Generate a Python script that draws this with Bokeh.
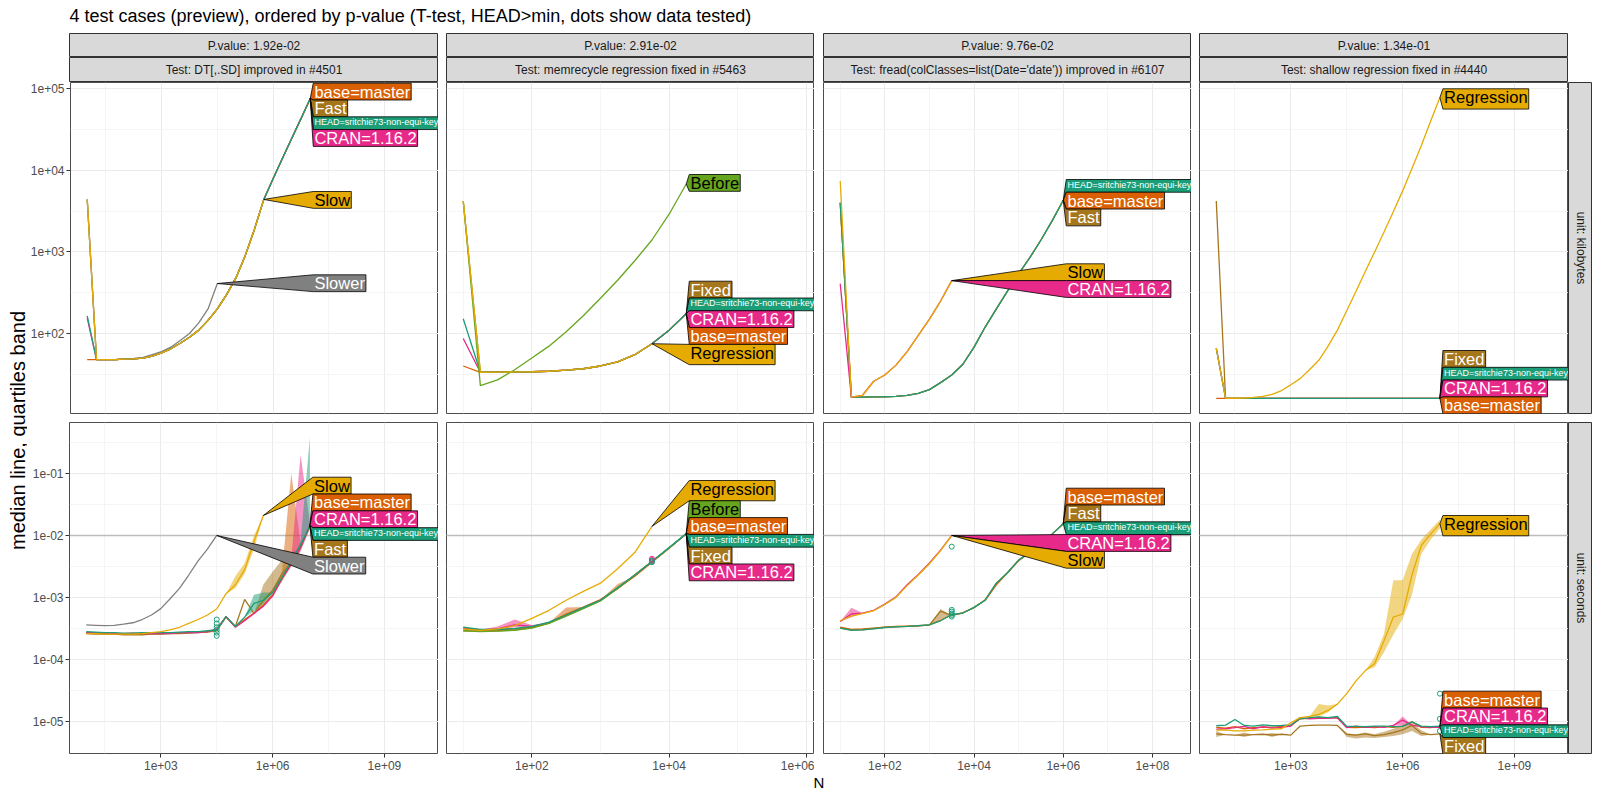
import math
from bokeh.plotting import figure
from bokeh.layouts import row, column
from bokeh.models import Range1d, FixedTicker, CustomJSTickFormatter
from bokeh.embed import file_html
from bokeh.resources import INLINE
from bokeh.core.properties import value

FONT = "Liberation Sans"

# ---------------- texts ----------------
TITLE = "4 test cases (preview), ordered by p-value (T-test, HEAD>min, dots show data tested)"
P_VALUES = ["P.value: 1.92e-02", "P.value: 2.91e-02", "P.value: 9.76e-02", "P.value: 1.34e-01"]
TESTS = ["Test: DT[,.SD] improved in #4501",
         "Test: memrecycle regression fixed in #5463",
         "Test: fread(colClasses=list(Date='date')) improved in #6107",
         "Test: shallow regression fixed in #4440"]
UNITS = ["unit: kilobytes", "unit: seconds"]
Y_TITLE = "median line, quartiles band"
X_TITLE = "N"

BASE = "base=master"
FAST = "Fast"
HEAD = "HEAD=sritchie73-non-equi-key"
CRAN = "CRAN=1.16.2"
SLOW = "Slow"
SLOWER = "Slower"
BEFORE = "Before"
REGR = "Regression"
FIXED = "Fixed"

COLORS = {BASE: "#D95F02", FAST: "#A6761D", HEAD: "#1B9E77", CRAN: "#E7298A",
          SLOW: "#E6AB02", SLOWER: "#808080", BEFORE: "#66A61E", REGR: "#E6AB02",
          FIXED: "#A6761D"}
DARK_TEXT = [SLOW, REGR, BEFORE]

# ---------------- data ----------------
N_GRID = [10, 17.78, 31.62, 56.23, 100, 177.8, 316.2, 562.3, 1000, 1778, 3162, 5623,
          10000, 17783, 31623, 56234, 100000, 177828, 316228, 562341, 1000000,
          1778279, 3162278, 5623413, 10000000]

X_TICKS = [[1e3, 1e6, 1e9], [1e2, 1e4, 1e6], [1e2, 1e4, 1e6, 1e8], [1e3, 1e6, 1e9]]
X_MINOR = [[31.62, 31623, 31622777], [10, 1000, 100000], [10, 1000, 100000, 10000000],
           [31.62, 31623, 31622777]]
Y_TICKS = [[1e2, 1e3, 1e4, 1e5], [1e-5, 1e-4, 1e-3, 1e-2, 1e-1]]
Y_MINOR = [[31.62, 316.2, 3162, 31623], [3.162e-5, 3.162e-4, 3.162e-3, 3.162e-2, 0.3162]]
HLINE_SEC = 0.01

# panel 1: DT[,.SD]
DT_KB = {
    BASE: [48, 48, 48, 48, 48.5, 49, 50, 53, 58, 65, 76, 90, 110, 145, 200, 300, 480, 900, 1900, 4400, 7900, 14000, 24500, 43000, 76000],
    CRAN: [155, 48, 48, 48, 48.5, 49, 50, 53, 58, 65, 76, 90, 110, 145, 200, 300, 480, 900, 1900, 4400, 7900, 14000, 24500, 43000, 76000],
    FAST: [4400, 48, 48, 48, 48.5, 49, 50, 53, 58, 65, 76, 90, 110, 145, 200, 300, 480, 900, 1900, 4400, 7900, 14000, 24500, 43000, 76000],
    HEAD: [165, 48, 48, 48, 48.5, 49, 50, 53, 58, 65, 76, 90, 110, 145, 200, 300, 480, 900, 1900, 4400, 7900, 14000, 24500, 43000, 76000],
    SLOWER: [4400, 48, 48, 48, 48.5, 49.5, 51, 55, 60, 68, 82, 100, 135, 200, 410],
    SLOW: [4400, 48, 48, 48, 48.5, 49, 50, 53, 58, 65, 76, 90, 110, 145, 200, 300, 480, 900, 1900, 4400],
}
DT_SEC = {
    SLOWER: [3.6e-4, 3.55e-4, 3.5e-4, 3.55e-4, 3.7e-4, 3.9e-4, 4.4e-4, 5.2e-4, 6.6e-4, 9.5e-4, 1.4e-3, 2.3e-3, 3.9e-3, 6.0e-3, 1.0e-2],
    BASE: [2.7e-4, 2.65e-4, 2.6e-4, 2.6e-4, 2.6e-4, 2.6e-4, 2.6e-4, 2.6e-4, 2.6e-4, 2.65e-4, 2.7e-4, 2.7e-4, 2.75e-4, 2.8e-4, 3.0e-4, 4.9e-4, 3.4e-4, 4.4e-4, 5.6e-4, 7.5e-4, 1.1e-3, 2.0e-3, 3.5e-3, 6.4e-3, 1.45e-2],
    FAST: [2.6e-4, 2.55e-4, 2.55e-4, 2.55e-4, 2.5e-4, 2.5e-4, 2.5e-4, 2.55e-4, 2.55e-4, 2.6e-4, 2.6e-4, 2.65e-4, 2.7e-4, 2.75e-4, 2.9e-4, 4.8e-4, 3.4e-4, 9.3e-4, 5.5e-4, 9.0e-4, 1.3e-3, 2.4e-3, 3.6e-3, 6.8e-3, 1.45e-2],
    CRAN: [2.7e-4, 2.7e-4, 2.65e-4, 2.6e-4, 2.6e-4, 2.65e-4, 2.6e-4, 2.6e-4, 2.6e-4, 2.6e-4, 2.7e-4, 2.7e-4, 2.7e-4, 2.8e-4, 3.1e-4, 4.9e-4, 3.3e-4, 4.2e-4, 5.5e-4, 7.2e-4, 1.05e-3, 2.0e-3, 3.4e-3, 6.6e-3, 1.45e-2],
    HEAD: [2.8e-4, 2.75e-4, 2.7e-4, 2.7e-4, 2.65e-4, 2.65e-4, 2.7e-4, 2.7e-4, 2.7e-4, 2.7e-4, 2.75e-4, 2.8e-4, 2.8e-4, 2.9e-4, 3.0e-4, 4.9e-4, 3.4e-4, 4.8e-4, 8.0e-4, 9.0e-4, 1.2e-3, 2.1e-3, 3.8e-3, 7.0e-3, 1.45e-2],
    SLOW: [2.6e-4, 2.6e-4, 2.55e-4, 2.55e-4, 2.55e-4, 2.55e-4, 2.6e-4, 2.7e-4, 2.8e-4, 3.0e-4, 3.3e-4, 3.8e-4, 4.4e-4, 5.2e-4, 6.5e-4, 1.15e-3, 1.6e-3, 2.8e-3, 8.0e-3, 2.1e-2],
}
DT_SEC_BANDS = {
    BASE: {21: (1.8e-3, 2.6e-3), 22: (3.2e-3, 1.0e-1), 23: (5.8e-3, 7.5e-3)},
    CRAN: {22: (3.2e-3, 4.2e-3), 23: (5.5e-3, 2.0e-1), 24: (1.3e-2, 1.6e-2)},
    HEAD: {18: (6.0e-4, 1.1e-3), 19: (8.0e-4, 1.2e-3), 23: (6.0e-3, 8.0e-3), 24: (1.3e-2, 3.8e-1)},
    FAST: {19: (7.0e-4, 1.6e-3), 20: (1.1e-3, 2.6e-3), 21: (2.0e-3, 4.0e-3), 22: (3.3e-3, 5.0e-3)},
    SLOW: {16: (1.4e-3, 2.2e-3), 17: (2.4e-3, 3.6e-3), 18: (6.0e-3, 1.0e-2)},
}
DT_SEC_DOTS = {HEAD: (31623, [2.4e-4, 2.7e-4, 3.0e-4, 3.3e-4, 3.8e-4, 4.4e-4])}

# panel 2: memrecycle
MEM_KB = {
    BASE: [40, 33.5, 33.7, 33.8, 34, 34.5, 35.5, 37, 40, 45, 55, 75, 110, 175],
    CRAN: [87, 33.5, 33.7, 33.8, 34, 34.5, 35.5, 37, 40, 45, 55, 75, 110, 175],
    FIXED: [4200, 33.5, 33.7, 33.8, 34, 34.5, 35.5, 37, 40, 45, 55, 75, 110, 175],
    HEAD: [152, 33.5, 33.7, 33.8, 34, 34.5, 35.5, 37, 40, 45, 55, 75, 110, 175],
    BEFORE: [4200, 23, 27, 36, 50, 70, 105, 165, 270, 450, 780, 1400, 2900, 6800],
    REGR: [4200, 33.5, 33.7, 33.8, 34, 34.5, 35.5, 37, 40, 45, 55, 75],
}
MEM_SEC = {
    BASE: [3.1e-4, 2.95e-4, 3.0e-4, 3.1e-4, 3.3e-4, 3.9e-4, 5.4e-4, 7.0e-4, 9.2e-4, 1.4e-3, 2.2e-3, 3.7e-3, 6.2e-3, 1.07e-2],
    CRAN: [3.2e-4, 3.0e-4, 3.1e-4, 3.6e-4, 3.4e-4, 3.9e-4, 5.1e-4, 6.8e-4, 9.0e-4, 1.4e-3, 2.3e-3, 3.8e-3, 6.3e-3, 1.07e-2],
    FIXED: [2.9e-4, 2.85e-4, 2.9e-4, 3.0e-4, 3.25e-4, 3.85e-4, 5.1e-4, 6.7e-4, 8.9e-4, 1.4e-3, 2.3e-3, 3.8e-3, 6.3e-3, 1.06e-2],
    BEFORE: [2.9e-4, 2.8e-4, 2.85e-4, 2.95e-4, 3.2e-4, 3.8e-4, 5.0e-4, 6.6e-4, 8.8e-4, 1.4e-3, 2.3e-3, 3.8e-3, 6.3e-3, 1.08e-2],
    HEAD: [3.3e-4, 3.05e-4, 3.05e-4, 3.15e-4, 3.4e-4, 4.0e-4, 5.2e-4, 6.9e-4, 9.0e-4, 1.45e-3, 2.3e-3, 3.8e-3, 6.4e-3, 1.07e-2],
    REGR: [3.1e-4, 2.95e-4, 3.1e-4, 3.5e-4, 4.6e-4, 6.2e-4, 9.0e-4, 1.25e-3, 1.7e-3, 2.9e-3, 5.3e-3, 1.4e-2],
}
MEM_SEC_BANDS = {
    CRAN: {2: (3.0e-4, 3.4e-4), 3: (3.3e-4, 4.4e-4), 4: (3.3e-4, 3.6e-4)},
    BASE: {6: (5.3e-4, 6.9e-4), 9: (1.4e-3, 1.65e-3)},
}
MEM_SEC_DOTS = {CRAN: (5623, [3.8e-3, 4.0e-3, 4.2e-3]), HEAD: (5623, [3.7e-3, 3.9e-3])}

# panel 3: fread
FREAD_KB = {
    BASE: [4000, 16.6, 16.6, 16.7, 16.8, 17, 17.5, 18.5, 20.5, 25, 31, 42, 68, 120, 200, 330, 540, 850, 1400, 2400, 4300],
    FAST: [4000, 16.6, 16.6, 16.7, 16.8, 17, 17.5, 18.5, 20.5, 25, 31, 42, 68, 120, 200, 330, 540, 850, 1400, 2400, 4300],
    HEAD: [4000, 16.6, 16.6, 16.7, 16.8, 17, 17.5, 18.5, 20.5, 25, 31, 42, 68, 120, 200, 330, 540, 850, 1400, 2400, 4300],
    CRAN: [407, 16.6, 17.5, 26, 31, 41, 60, 95, 150, 250, 445],
    SLOW: [7400, 16.6, 17.5, 26, 31, 41, 60, 95, 150, 250, 445],
}
FREAD_SEC = {
    BASE: [3.3e-4, 3.05e-4, 3.1e-4, 3.2e-4, 3.3e-4, 3.4e-4, 3.45e-4, 3.5e-4, 3.6e-4, 4.3e-4, 5.2e-4, 5.6e-4, 6.9e-4, 9.0e-4, 1.6e-3, 2.5e-3, 3.9e-3, 5.3e-3, 7.4e-3, 1.05e-2, 1.55e-2],
    FAST: [3.2e-4, 3.0e-4, 3.0e-4, 3.15e-4, 3.3e-4, 3.35e-4, 3.4e-4, 3.45e-4, 3.6e-4, 6.0e-4, 5.1e-4, 5.7e-4, 6.8e-4, 9.2e-4, 1.7e-3, 2.5e-3, 4.0e-3, 5.4e-3, 7.4e-3, 1.05e-2, 1.55e-2],
    HEAD: [3.2e-4, 2.95e-4, 3.0e-4, 3.1e-4, 3.25e-4, 3.35e-4, 3.4e-4, 3.5e-4, 3.6e-4, 4.2e-4, 5.3e-4, 5.6e-4, 6.9e-4, 9.0e-4, 1.7e-3, 2.5e-3, 4.0e-3, 5.3e-3, 7.4e-3, 1.05e-2, 1.55e-2],
    CRAN: [4.1e-4, 5.4e-4, 5.6e-4, 6.2e-4, 7.8e-4, 1.02e-3, 1.6e-3, 2.35e-3, 3.6e-3, 5.8e-3, 1.0e-2],
    SLOW: [4.2e-4, 5.0e-4, 5.5e-4, 6.1e-4, 7.7e-4, 1.0e-3, 1.55e-3, 2.3e-3, 3.5e-3, 5.7e-3, 1.0e-2],
}
FREAD_SEC_BANDS = {
    CRAN: {1: (4.8e-4, 6.8e-4)},
    FAST: {9: (4.5e-4, 6.5e-4)},
}
FREAD_SEC_DOTS = {HEAD: (3162, [4.9e-4, 5.2e-4, 5.5e-4, 5.9e-4, 6.3e-4, 6.6e-3])}

# panel 4: shallow
SHALLOW_KB = {
    BASE: [16, 16, 16, 16, 16, 16, 16, 16, 16, 16, 16, 16, 16, 16, 16, 16, 16, 16, 16, 16, 16, 16, 16, 16, 16],
    CRAN: [66, 16, 16, 16, 16, 16, 16, 16, 16, 16, 16, 16, 16, 16, 16, 16, 16, 16, 16, 16, 16, 16, 16, 16, 16],
    FIXED: [4200, 16, 16, 16, 16, 16, 16, 16, 16, 16, 16, 16, 16, 16, 16, 16, 16, 16, 16, 16, 16, 16, 16, 16, 16],
    HEAD: [66, 16, 16, 16, 16, 16, 16, 16, 16, 16, 16, 16, 16, 16, 16, 16, 16, 16, 16, 16, 16, 16, 16, 16, 16],
    REGR: [66, 16, 16.1, 16.2, 16.5, 17, 18, 20, 23.5, 28, 36, 47, 70, 110, 190, 330, 580, 1000, 1750, 3100, 5600, 10500, 20000, 40000, 78000],
}
SHALLOW_SEC = {
    FIXED: [6.3e-6, 6.1e-6, 6.0e-6, 6.0e-6, 6.1e-6, 6.2e-6, 6.0e-6, 6.2e-6, 6.0e-6, 8.4e-6, 8.6e-6, 8.7e-6, 8.7e-6, 8.6e-6, 6.2e-6, 6.0e-6, 6.3e-6, 5.9e-6, 6.1e-6, 6.6e-6, 7.3e-6, 8.6e-6, 6.4e-6, 6.1e-6, 6.3e-6],
    BASE: [8.0e-6, 7.8e-6, 8.2e-6, 7.6e-6, 7.9e-6, 8.1e-6, 8.0e-6, 8.3e-6, 8.5e-6, 1.1e-5, 1.12e-5, 1.15e-5, 1.15e-5, 1.13e-5, 8.0e-6, 7.9e-6, 8.1e-6, 7.9e-6, 8.2e-6, 8.0e-6, 8.4e-6, 9.8e-6, 8.0e-6, 7.9e-6, 8.2e-6],
    CRAN: [7.5e-6, 7.6e-6, 7.9e-6, 8.3e-6, 7.6e-6, 8.2e-6, 7.8e-6, 8.0e-6, 8.4e-6, 1.15e-5, 1.1e-5, 1.12e-5, 1.12e-5, 1.15e-5, 7.9e-6, 8.4e-6, 8.0e-6, 8.2e-6, 8.0e-6, 8.6e-6, 1.05e-5, 8.7e-6, 8.2e-6, 8.0e-6, 8.0e-6],
    HEAD: [8.5e-6, 8.7e-6, 1.07e-5, 8.6e-6, 8.4e-6, 8.8e-6, 8.5e-6, 8.6e-6, 8.8e-6, 1.1e-5, 1.15e-5, 1.18e-5, 1.15e-5, 1.2e-5, 8.3e-6, 8.3e-6, 8.2e-6, 8.4e-6, 8.4e-6, 8.2e-6, 8.3e-6, 9.8e-6, 8.4e-6, 8.2e-6, 8.4e-6],
    REGR: [7.2e-6, 7.3e-6, 7.0e-6, 7.0e-6, 7.2e-6, 7.3e-6, 7.5e-6, 7.6e-6, 9.5e-6, 1.15e-5, 1.2e-5, 1.3e-5, 1.5e-5, 1.9e-5, 2.8e-5, 4.5e-5, 6.6e-5, 8.6e-5, 2.0e-4, 4.8e-4, 5.4e-4, 2.3e-3, 6.9e-3, 1.05e-2, 1.55e-2],
}
SHALLOW_SEC_BANDS = {
    REGR: {11: (1.2e-5, 1.9e-5), 12: (1.4e-5, 1.8e-5), 17: (7.5e-5, 1.1e-4), 18: (1.3e-4, 2.6e-4),
           19: (2.5e-4, 1.9e-3), 20: (4.5e-4, 1.9e-3), 21: (1.1e-3, 5.0e-3), 22: (5.0e-3, 8.5e-3),
           23: (8.5e-3, 1.25e-2), 24: (1.3e-2, 1.8e-2)},
    FIXED: {0: (5.6e-6, 7.0e-6), 3: (5.6e-6, 6.6e-6), 6: (5.6e-6, 6.5e-6), 14: (5.6e-6, 6.4e-6),
            15: (5.3e-6, 6.2e-6), 16: (5.5e-6, 6.6e-6), 17: (5.4e-6, 6.2e-6), 18: (5.6e-6, 6.8e-6),
            19: (5.8e-6, 7.6e-6), 20: (6.2e-6, 8.6e-6), 21: (7.0e-6, 9.5e-6), 22: (5.8e-6, 7.2e-6)},
    CRAN: {20: (8.5e-6, 1.2e-5)},
}
SHALLOW_SEC_DOTS = {HEAD: (10000000, [2.8e-5, 1.1e-5, 7.0e-6])}

SERIES = [[DT_KB, MEM_KB, FREAD_KB, SHALLOW_KB], [DT_SEC, MEM_SEC, FREAD_SEC, SHALLOW_SEC]]
BANDS = [[{}, {}, {}, {}], [DT_SEC_BANDS, MEM_SEC_BANDS, FREAD_SEC_BANDS, SHALLOW_SEC_BANDS]]
DOTS = [[{}, {}, {}, {}], [DT_SEC_DOTS, MEM_SEC_DOTS, FREAD_SEC_DOTS, SHALLOW_SEC_DOTS]]

# drawing order (last on top) per panel [row][col]
ORDER = [
    [[BASE, CRAN, FAST, HEAD, SLOWER, SLOW], [BASE, CRAN, FIXED, HEAD, BEFORE, REGR],
     [BASE, FAST, HEAD, CRAN, SLOW], [BASE, CRAN, FIXED, HEAD, REGR]],
    [[SLOWER, BASE, FAST, CRAN, HEAD, SLOW], [BASE, CRAN, FIXED, BEFORE, HEAD, REGR],
     [BASE, FAST, HEAD, CRAN, SLOW], [FIXED, BASE, CRAN, HEAD, REGR]],
]

# ---------------- layout / style ----------------
FW = [369, 368, 368, 369]
FH = 331
LEFT_PAD = [42, 8, 9, 8]
BOTTOM_PAD = [9, 22]
YLAB_W = 27
STRIP_W = 24
TITLE_H = 33
YLAB_CENTER = 348      # px below the top of the first panel row

# label stacks: (top of first box in px from frame top, labels stacked downward)
STACKS = [
    [[(0.7, [BASE, FAST, HEAD, CRAN]), (109.0, [SLOW]), (192.3, [SLOWER])],
     [(92.0, [BEFORE]), (198.7, [FIXED, HEAD, CRAN, BASE, REGR])],
     [(97.0, [HEAD, BASE, FAST]), (181.3, [SLOW, CRAN])],
     [(6.3, [REGR]), (268.0, [FIXED, HEAD, CRAN, BASE])]],
    [[(54.7, [SLOW, BASE, CRAN, HEAD, FAST, SLOWER])],
     [(58.0, [REGR, BEFORE, BASE, HEAD, FIXED, CRAN])],
     [(65.7, [BASE, FAST, HEAD, CRAN, SLOW])],
     [(93.0, [REGR]), (268.7, [BASE, CRAN, HEAD, FIXED])]],
]

CHAR_W = {'a': 556, 'b': 556, 'c': 500, 'd': 556, 'e': 556, 'f': 278, 'g': 556, 'h': 556, 'i': 222,
          'j': 222, 'k': 500, 'l': 222, 'm': 833, 'n': 556, 'o': 556, 'p': 556, 'q': 556, 'r': 333,
          's': 500, 't': 278, 'u': 556, 'v': 500, 'w': 722, 'x': 500, 'y': 500, 'z': 500,
          'A': 667, 'B': 667, 'C': 722, 'D': 722, 'E': 667, 'F': 611, 'H': 722, 'N': 722,
          'R': 722, 'S': 667, '=': 584, '-': 333, '.': 278, ' ': 278}


def text_w(s, fs):
    return sum(CHAR_W.get(ch, 556) for ch in s) * fs / 1000.0


def label_metrics(name):
    small = name == HEAD
    fs = 9.0 if small else 16.5
    pad = 2.2 if small else 2.5
    cap = 0.716 * fs
    desc = 0.21 * fs if any(ch in "gjpqy" for ch in name) else 0.0
    return fs, pad, cap, cap + desc + 2 * pad, text_w(name, fs) + 2.4


def row_range(r):
    vals = []
    for c in range(4):
        for v in SERIES[r][c].values():
            vals += v
        for b in BANDS[r][c].values():
            for lo, hi in b.values():
                vals += [lo, hi]
    lo, hi = math.log10(min(vals)), math.log10(max(vals))
    s = hi - lo
    return lo - 0.05 * s, hi + 0.05 * s


FMT = CustomJSTickFormatter(code="""
const e = Math.round(Math.log10(tick));
const a = Math.abs(e);
return "1e" + (e < 0 ? "-" : "+") + (a < 10 ? "0" : "") + a;
""")


def style_axis(ax, ticker):
    ax.ticker = ticker
    ax.formatter = FMT
    ax.axis_line_color = None
    ax.major_tick_line_color = "#333333"
    ax.major_tick_in = 0
    ax.major_tick_out = 4
    ax.minor_tick_line_color = None
    ax.major_label_text_font = FONT
    ax.major_label_text_font_size = "12px"
    ax.major_label_text_color = "#4d4d4d"


def make_panel(r, c):
    series = SERIES[r][c]
    bands = BANDS[r][c]
    dots = DOTS[r][c]
    lo = math.log10(N_GRID[0])
    nmax = max(N_GRID[len(v) - 1] for v in series.values())
    top = lo + 1.5 * (math.log10(nmax) - lo)
    span = top - lo
    xl, xh = lo - 0.05 * span, top + 0.05 * span
    yl, yh = row_range(r)
    fw, fh = FW[c], FH

    p = figure(width=LEFT_PAD[c] + fw, height=fh + BOTTOM_PAD[r],
               x_axis_type="log", y_axis_type="log",
               x_range=Range1d(10 ** xl, 10 ** xh), y_range=Range1d(10 ** yl, 10 ** yh),
               x_axis_location=("below" if r == 1 else None),
               y_axis_location=("left" if c == 0 else None),
               min_border_left=LEFT_PAD[c], min_border_right=0, min_border_top=0,
               min_border_bottom=BOTTOM_PAD[r], toolbar_location=None, output_backend="svg")
    p.outline_line_color = "#4d4d4d"
    p.outline_line_width = 1
    xt = FixedTicker(ticks=X_TICKS[c], minor_ticks=X_MINOR[c])
    yt = FixedTicker(ticks=Y_TICKS[r], minor_ticks=Y_MINOR[r])
    for g, t in ((p.xgrid[0], xt), (p.ygrid[0], yt)):
        g.ticker = t
        g.grid_line_color = "#ebebeb"
        g.grid_line_width = 1.1
        g.minor_grid_line_color = "#f3f3f3"
        g.minor_grid_line_width = 0.8
    if r == 1:
        style_axis(p.xaxis[0], xt)
        p.xaxis[0].major_label_standoff = 3
    if c == 0:
        style_axis(p.yaxis[0], yt)
        p.yaxis[0].major_label_standoff = 2

    if r == 1:
        p.hspan(y=[HLINE_SEC], line_color="#bdbdbd", line_width=1.3)

    order = ORDER[r][c]
    for name in order:
        if name in bands:
            m = series[name]
            q25 = [bands[name].get(i, (v, v))[0] for i, v in enumerate(m)]
            q75 = [bands[name].get(i, (v, v))[1] for i, v in enumerate(m)]
            p.varea(x=N_GRID[:len(m)], y1=q25, y2=q75, fill_color=COLORS[name], fill_alpha=0.5)
    for name in order:
        m = series[name]
        p.line(N_GRID[:len(m)], m, line_color=COLORS[name], line_width=1.3)
    for name, (n, ys) in dots.items():
        p.scatter([n for _ in ys], ys, marker="circle", size=5, fill_color=None,
                  line_color=COLORS[name], line_width=1)

    # direct labels (polygon callouts)
    def px_x(v):
        return (math.log10(v) - xl) / (xh - xl) * fw

    def px_y(v):
        return (yh - math.log10(v)) / (yh - yl) * fh

    def dx(px):
        return 10 ** (xl + px / fw * (xh - xl))

    def dy(py):
        return 10 ** (yh - py / fh * (yh - yl))

    box_left = px_x(nmax) + 3
    for top_px, names in STACKS[r][c]:
        t = top_px
        for name in names:
            fs, pad, cap, h, w = label_metrics(name)
            m = series[name]
            tx, ty = px_x(N_GRID[len(m) - 1]), px_y(m[-1])
            xs = [tx, box_left, box_left + w, box_left + w, box_left]
            ys = [ty, t, t, t + h, t + h]
            p.patch([dx(v) for v in xs], [dy(v) for v in ys], fill_color=COLORS[name],
                    line_color="black", line_width=0.8)
            p.text(x=[dx(box_left + 1.2)], y=[dy(t + pad + cap / 2.0)], text=[name],
                   text_font=value(FONT), text_font_size=f"{fs}px",
                   text_color=("black" if name in DARK_TEXT else "white"),
                   text_align="left", text_baseline="middle")
            t += h
    return p


def text_box(w, h, txt, left=0, bottom=0, fill=None, outline=None, size="12px",
             color="#1a1a1a", angle=0.0, tx=0.5, ty=0.5, align="center",
             xr=(0, 1), yr=(0, 1)):
    p = figure(width=w, height=h, x_range=Range1d(*xr), y_range=Range1d(*yr),
               x_axis_location=None, y_axis_location=None,
               min_border_left=left, min_border_right=0, min_border_top=0,
               min_border_bottom=bottom, toolbar_location=None, output_backend="svg")
    p.xgrid.visible = False
    p.ygrid.visible = False
    p.background_fill_color = fill if fill else "white"
    p.outline_line_color = outline
    p.text(x=[tx], y=[ty], text=[txt], text_font=value(FONT), text_font_size=size,
           text_color=color, angle=angle, text_align=align, text_baseline="middle")
    return p


TOTAL_W = YLAB_W + sum(LEFT_PAD) + sum(FW) + STRIP_W
PANEL_LEFT = YLAB_W + LEFT_PAD[0]

title = text_box(TOTAL_W, TITLE_H, TITLE, size="18px", color="black", tx=PANEL_LEFT,
                 ty=TITLE_H - 15.7, align="left", xr=(0, TOTAL_W), yr=(0, TITLE_H))

strip_left = [PANEL_LEFT] + LEFT_PAD[1:]
p_strips = row([text_box(strip_left[c] + FW[c], 24, P_VALUES[c], left=strip_left[c],
                         fill="#d9d9d9", outline="#333333") for c in range(4)])
t_strips = row([text_box(strip_left[c] + FW[c], 25, TESTS[c], left=strip_left[c],
                         fill="#d9d9d9", outline="#333333") for c in range(4)])

rows = []
for r in range(2):
    panels = [make_panel(r, c) for c in range(4)]
    strip = text_box(STRIP_W, FH + BOTTOM_PAD[r], UNITS[r], bottom=BOTTOM_PAD[r],
                     fill="#d9d9d9", outline="#333333", angle=-math.pi / 2)
    rows.append(row(panels + [strip]))

ylab_h = 2 * FH + sum(BOTTOM_PAD)
ylab = text_box(YLAB_W, ylab_h, Y_TITLE, size="20px", color="black", angle=math.pi / 2,
                tx=17, ty=ylab_h - YLAB_CENTER,
                align="center", xr=(0, YLAB_W), yr=(0, ylab_h))

xlab = text_box(TOTAL_W, 16, X_TITLE, size="15px", color="black",
                tx=PANEL_LEFT + (sum(FW) + sum(LEFT_PAD[1:])) / 2.0, ty=9.4,
                align="center", xr=(0, TOTAL_W), yr=(0, 16))

page = column(title, p_strips, t_strips, row(ylab, column(rows[0], rows[1])), xlab)

open("out.html", "w").write(file_html(page, INLINE))
